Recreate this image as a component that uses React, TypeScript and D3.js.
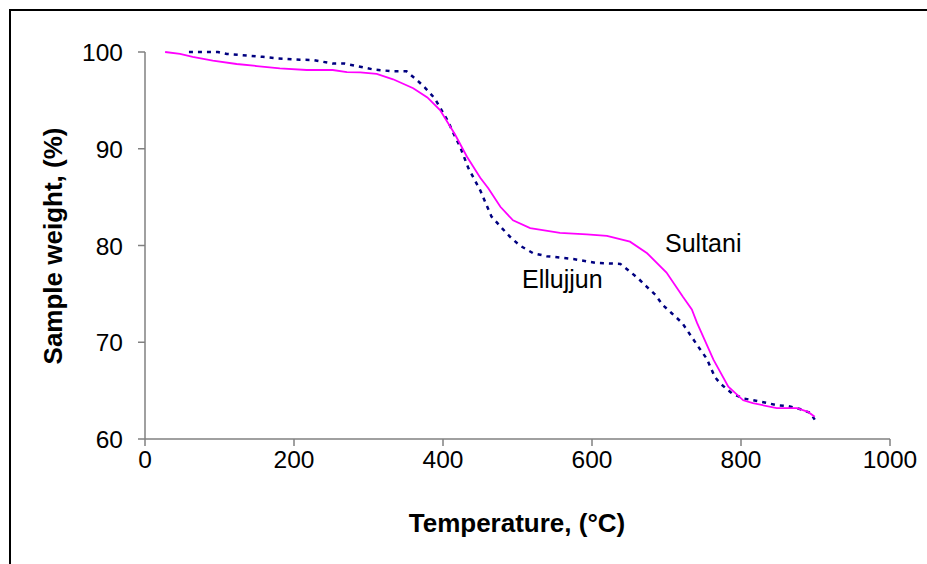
import React from "react";
import * as d3 from "d3";

const sultaniT = [27, 47, 64, 91, 123, 150, 181, 217, 252, 271, 289, 311, 333, 360, 379, 396, 416, 432, 450, 461, 477, 494, 517, 557, 593, 620, 651, 674, 700, 722, 734, 741, 763, 783, 803, 816, 848, 875, 890, 899];
const sultaniW = [100, 99.8, 99.5, 99.1, 98.76, 98.55, 98.3, 98.14, 98.14, 97.93, 97.9, 97.73, 97.18, 96.25, 95.3, 94.0, 91.5, 89.2, 87.0, 85.9, 84.0, 82.6, 81.8, 81.3, 81.15, 81.0, 80.4, 79.2, 77.2, 74.7, 73.4, 72.0, 68.2, 65.4, 64.0, 63.7, 63.2, 63.2, 62.8, 62.3];

const ellujjunT = [59, 98, 110, 127, 158, 177, 208, 226, 252, 268, 284, 306, 333, 351, 365, 376, 389, 398, 407, 414, 423, 434, 450, 465, 479, 490, 503, 521, 539, 575, 606, 638, 651, 662, 674, 685, 695, 707, 721, 732, 743, 754, 765, 772, 788, 803, 830, 848, 863, 879, 893, 899];
const ellujjunW = [100, 100, 99.8, 99.7, 99.5, 99.35, 99.2, 99.17, 98.8, 98.8, 98.55, 98.2, 98.0, 98.0, 97.1, 96.3, 95.2, 94.0, 92.8, 91.6, 90.2, 88.0, 85.7, 83.0, 81.8, 80.9, 80.0, 79.2, 78.9, 78.6, 78.2, 78.1, 77.3, 76.6, 75.7, 74.9, 73.85, 73.0, 72.0, 70.75, 69.5, 68.3, 66.4, 65.75, 64.7, 64.2, 63.8, 63.5, 63.4, 63.1, 62.7, 62.0];

const xTicks = [0, 200, 400, 600, 800, 1000];
const yTicks = [60, 70, 80, 90, 100];

export default function App() {
  const x = d3.scaleLinear().domain([0, 1000]).range([145, 890]);
  const y = d3.scaleLinear().domain([60, 100]).range([439, 52]);
  const line = d3
    .line<[number, number]>()
    .x((d) => x(d[0]))
    .y((d) => y(d[1]))
    .curve(d3.curveLinear);
  const sData = sultaniT.map((t, i) => [t, sultaniW[i]] as [number, number]);
  const eData = ellujjunT.map((t, i) => [t, ellujjunW[i]] as [number, number]);
  const axisColor = "#808080";
  const font = "Arial, 'Liberation Sans', sans-serif";

  return (
    <svg
      width={927}
      height={564}
      style={{ position: "absolute", left: 0, top: 0, display: "block", background: "#fff" }}
      fontFamily={font}
    >
      <rect x={0} y={0} width={927} height={564} fill="#fff" />
      <rect x={10} y={10} width={1000} height={700} fill="none" stroke="#000" strokeWidth={2} />

      {/* axes */}
      <line x1={x(0)} x2={x(0)} y1={y(100)} y2={y(60)} stroke={axisColor} strokeWidth={1.5} />
      <line x1={x(0)} x2={x(1000)} y1={y(60)} y2={y(60)} stroke={axisColor} strokeWidth={1.5} />
      {yTicks.map((t) => (
        <g key={"y" + t}>
          <line x1={x(0) - 7} x2={x(0)} y1={y(t)} y2={y(t)} stroke={axisColor} strokeWidth={1.5} />
          <text x={123} y={y(t) + 9} textAnchor="end" fontSize={24.5} fill="#000">
            {t}
          </text>
        </g>
      ))}
      {xTicks.map((t) => (
        <g key={"x" + t}>
          <line x1={x(t)} x2={x(t)} y1={y(60)} y2={y(60) + 7} stroke={axisColor} strokeWidth={1.5} />
          <text x={x(t)} y={468} textAnchor="middle" fontSize={24.5} fill="#000">
            {t}
          </text>
        </g>
      ))}

      {/* series */}
      <path d={line(eData) || ""} fill="none" stroke="#000080" strokeWidth={2.5} strokeDasharray="4,5" />
      <path d={line(sData) || ""} fill="none" stroke="#ff00ff" strokeWidth={1.8} />

      <text x={665} y={252} fontSize={25} fill="#000">Sultani</text>
      <text x={522} y={288} fontSize={25} fill="#000">Ellujjun</text>

      <text x={517} y={532} textAnchor="middle" fontSize={26} fontWeight="bold" fill="#000">
        Temperature, (°C)
      </text>
      <text
        transform={`translate(62,246) rotate(-90)`}
        textAnchor="middle"
        fontSize={26}
        fontWeight="bold"
        fill="#000"
      >
        Sample weight, (%)
      </text>
    </svg>
  );
}
